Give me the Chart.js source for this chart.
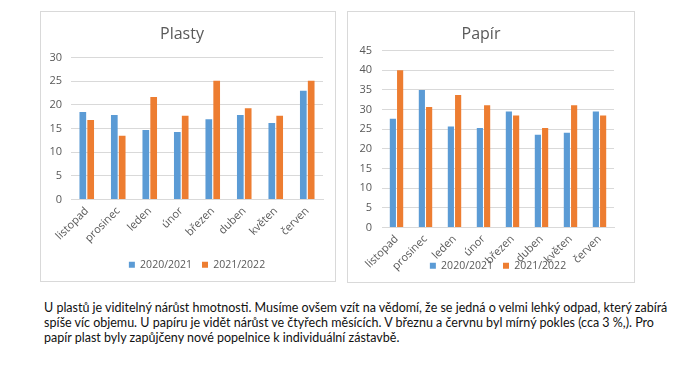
<!DOCTYPE html>
<html>
<head>
<meta charset="utf-8">
<script src="https://cdn.jsdelivr.net/npm/chart.js@4.4.0/dist/chart.umd.min.js"></script>
<style>
  html, body { margin: 0; padding: 0; background: #fff; width: 700px; height: 369px; overflow: hidden; }
  .box { position: absolute; border: 1px solid #D9D9D9; background: #fff; }
  #box1 { left: 40px; top: 11px; width: 294px; height: 269px; }
  #box2 { left: 347px; top: 11px; width: 286px; height: 270px; }
  canvas { display: block; }
  #note { position: absolute; left: 44px; top: 300px; font-family: Lato, "Open Sans", sans-serif; font-size: 12.5px; line-height: 15px; color: #111; white-space: nowrap; }
</style>
</head>
<body>
<div class="box" id="box1"><canvas id="c1" width="294" height="269"></canvas></div>
<div class="box" id="box2"><canvas id="c2" width="286" height="270"></canvas></div>
<div id="note">U plastů je viditelný nárůst hmotnosti. Musíme ovšem vzít na vědomí, že se jedná o velmi lehký odpad, který zabírá<br>spíše víc objemu. U papíru je vidět nárůst ve čtyřech měsících. V březnu a červnu byl mírný pokles (cca 3 %,). Pro<br>papír plast byly zapůjčeny nové popelnice k individuální zástavbě.</div>
<script>
const months = ['listopad', 'prosinec', 'leden', 'únor', 'březen', 'duben', 'květen', 'červen'];
const seriesNames = ['2020/2021', '2021/2022'];
const plasty2021 = [18.5, 17.9, 14.7, 14.3, 17.0, 17.9, 16.2, 23.0];
const plasty2122 = [16.8, 13.5, 21.7, 17.7, 25.1, 19.3, 17.7, 25.1];
const papir2021 = [27.7, 35.0, 25.7, 25.3, 29.5, 23.6, 24.1, 29.5];
const papir2122 = [40.0, 30.7, 33.7, 31.1, 28.5, 25.3, 31.1, 28.5];
const plastyMax = 30;
const papirMax = 45;
const tickStep = 5;

const BLUE = '#5B9BD5';
const ORANGE = '#ED7D31';
const TEXT = '#595959';
const GRID = '#D9D9D9';
const FONT = '"Open Sans", sans-serif';

function makeChart(id, title, a, b, yMax, cfg) {
  return new Chart(document.getElementById(id), {
    type: 'bar',
    data: {
      labels: months,
      datasets: [
        { label: seriesNames[0], data: a, backgroundColor: BLUE, categoryPercentage: 0.5, barPercentage: 0.85 },
        { label: seriesNames[1], data: b, backgroundColor: ORANGE, categoryPercentage: 0.5, barPercentage: 0.85 }
      ]
    },
    options: {
      responsive: false,
      animation: false,
      devicePixelRatio: 1,
      layout: { padding: { left: 0, right: cfg.padRight, top: 0, bottom: cfg.padBottom } },
      plugins: {
        title: {
          display: true, text: title, color: TEXT,
          font: { family: FONT, size: 16, weight: 'normal' },
          padding: { top: cfg.titleTop, bottom: cfg.titleBottom }
        },
        legend: {
          position: 'bottom',
          fullSize: false,
          labels: { boxWidth: 6, boxHeight: 6, color: TEXT, font: { family: FONT, size: 10.5 }, padding: 10 }
        },
        tooltip: { enabled: false }
      },
      scales: {
        y: {
          min: 0, max: yMax,
          ticks: { stepSize: tickStep, color: TEXT, font: { family: FONT, size: 11 }, padding: cfg.yPad },
          grid: { color: GRID, drawTicks: false },
          border: { display: false },
          afterFit: (axis) => { axis.width = cfg.yWidth; }
        },
        x: {
          ticks: { color: TEXT, font: { family: FONT, size: 11 }, minRotation: 45, maxRotation: 45, autoSkip: false, padding: 5 },
          grid: { display: false, drawTicks: false },
          border: { color: GRID },
          afterFit: (axis) => {
            axis.height = cfg.xHeight;
            // let the rotated labels run past the (shortened) axis box, as in the original
            axis._computeLabelArea = () => undefined;
          }
        }
      }
    }
  });
}

makeChart('c1', 'Plasty', plasty2021, plasty2122, plastyMax,
  { padRight: 12, padBottom: 1, titleTop: 12.5, titleBottom: 14, yPad: 9, yWidth: 30, xHeight: 50 });
makeChart('c2', 'Papír', papir2021, papir2122, papirMax,
  { padRight: 20, padBottom: 1, titleTop: 13, titleBottom: 6.5, yPad: 10, yWidth: 34, xHeight: 23 });
</script>
</body>
</html>
